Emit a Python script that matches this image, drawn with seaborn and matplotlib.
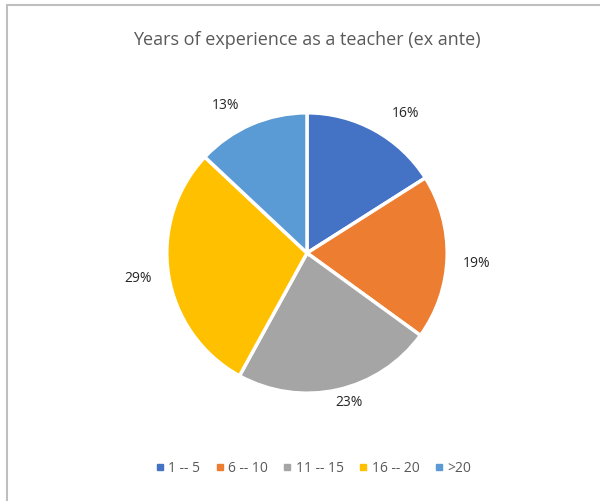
import numpy as np
import seaborn as sns
import matplotlib.pyplot as plt
from matplotlib.lines import Line2D
from matplotlib.patches import Rectangle

categories = ["1 -- 5", "6 -- 10", "11 -- 15", "16 -- 20", ">20"]
shares = [16, 19, 23, 29, 13]
colors = ["#4472C4", "#ED7D31", "#A5A5A5", "#FFC000", "#5B9BD5"]

sns.set_theme(style="white")
plt.rcParams['font.family'] = ['Open Sans', 'DejaVu Sans']
text_color = "#595959"

fig = plt.figure(figsize=(6, 5.01), dpi=100)

# chart border (left and top edges visible)
fig.add_artist(Rectangle((6.5 / 600, -0.05), 1.2, 1 - 5.5 / 501 + 0.05,
                         transform=fig.transFigure, fill=False,
                         edgecolor="#BFBFBF", linewidth=1.5))

fig.text(307 / 600, 1 - 40 / 501, "Years of experience as a teacher (ex ante)",
         ha="center", va="center", fontsize=13, color=text_color)

ax = fig.add_axes([(307 - 143) / 600, (501 - 396) / 501, 286 / 600, 286 / 501])
wedges, texts, autotexts = ax.pie(
    shares, colors=sns.color_palette(colors), startangle=90, counterclock=False,
    autopct="%1.0f%%", pctdistance=1.21,
    wedgeprops=dict(edgecolor="white", linewidth=2.5),
    textprops=dict(color="#262626", fontsize=10))

# Excel "best fit" label placement: small angle shifts and distances per label
label_shift = [-6.4, -1.8, 3.0, -0.5, 5.4]
label_dist = [1.22, 1.21, 1.11, 1.22, 1.2]
for w, t, s, d in zip(wedges, autotexts, label_shift, label_dist):
    ang = np.deg2rad((w.theta1 + w.theta2) / 2 + s)
    t.set_position((d * np.cos(ang), d * np.sin(ang)))

ax.set_xlim(-1.02, 1.02)
ax.set_ylim(-1.02, 1.02)
ax.set_aspect("equal")

handles = [Line2D([], [], marker="s", linestyle="", markersize=4,
                  markerfacecolor=c, markeredgecolor=c) for c in colors]
fig.legend(handles, categories, loc="center", bbox_to_anchor=(312 / 600, 1 - 468 / 501),
           ncol=5, frameon=False, fontsize=10, labelcolor=text_color,
           handletextpad=0.1, columnspacing=0.9, handlelength=1.0)

fig.savefig("out.png", dpi=100)
